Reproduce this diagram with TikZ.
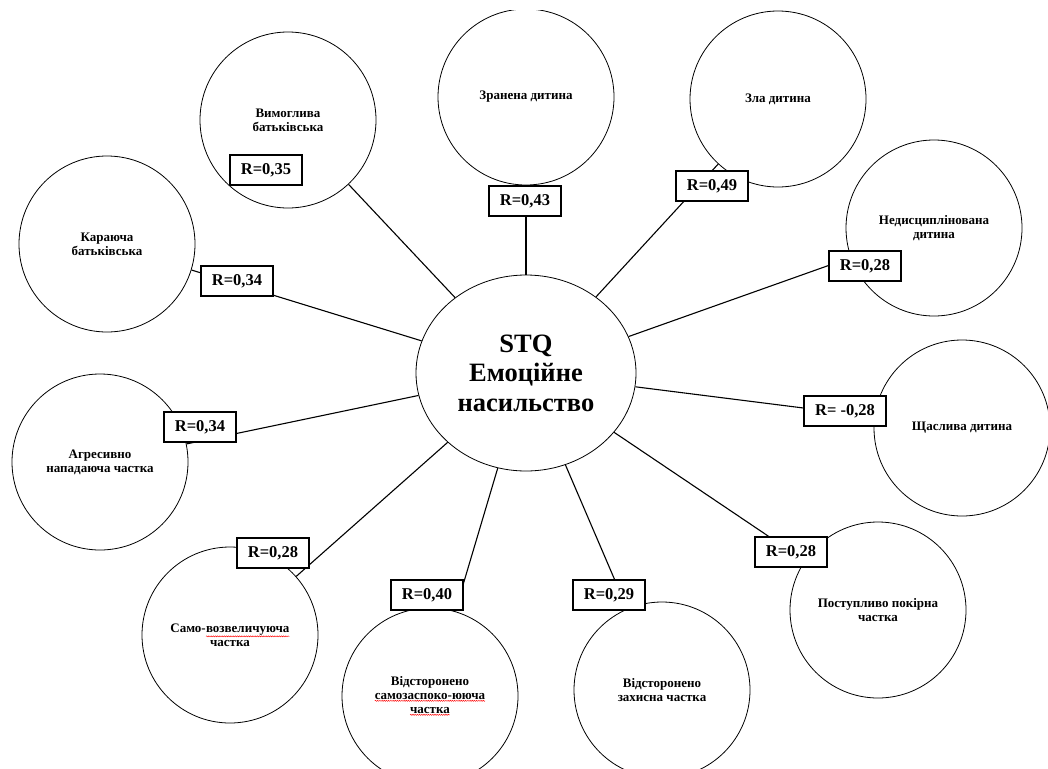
\documentclass[tikz,border=0pt]{standalone}
\usepackage{fontspec}
\setmainfont{Liberation Serif}
\usetikzlibrary{shapes.geometric,decorations.pathmorphing}

% red wavy underline under a word (spelling mark)
\newcommand\spellmark[1]{\tikz[baseline=(sw.base)]{%
  \node[shape=rectangle,draw=none,fill=none,minimum size=0pt,inner sep=0pt,outer sep=0pt] (sw) {#1};%
  \draw[red,line width=0.45pt,decorate,decoration={snake,amplitude=0.55pt,segment length=2.2pt}]
    ([yshift=-1.3pt]sw.south west) -- ([yshift=-1.3pt]sw.south east);}}

\tikzset{
  bubble/.style={circle,draw,line width=0.8pt,fill=white,minimum size=176pt,inner sep=0pt,
    align=center,font=\fontsize{13}{14}\selectfont\bfseries},
  hub/.style={ellipse,draw,line width=0.8pt,fill=white,minimum width=220pt,minimum height=196pt,
    inner sep=0pt,align=center,font=\fontsize{26.5}{29.5}\selectfont\bfseries},
  coef/.style={rectangle,draw,line width=1.6pt,fill=white,minimum height=29.5pt,
    inner xsep=11pt,inner ysep=0pt,font=\fontsize{16.5}{18}\selectfont\bfseries},
  link/.style={line width=1.1pt},
}

\begin{document}
\begin{tikzpicture}[x=1pt,y=-1pt]
\useasboundingbox (0,0) rectangle (1048,768);
\clip (0,11) rectangle (1048,768);

% central construct
\node[hub] (hub) at (526,373) {STQ\\Емоційне\\насильство};

% schema modes around it
\node[bubble] (demand)  at (288,120) {Вимоглива\\батьківська};
\node[bubble] (hurt)    at (526,97)  {Зранена дитина};
\node[bubble] (angry)   at (778,99)  {Зла дитина};
\node[bubble] (undisc)  at (934,228) {Недисциплінована\\дитина};
\node[bubble] (happy)   at (962,428) {Щаслива дитина};
\node[bubble] (compl)   at (878,610) {Поступливо покірна\\частка};
\node[bubble] (detprot) at (662,690) {Відсторонено\\захисна частка};
\node[bubble] (detsoot) at (430,696) {Відсторонено\\\spellmark{самозаспоко-ююча}\\\spellmark{частка}};
\node[bubble] (aggr)    at (230,635) {Само-\spellmark{возвеличуюча}\\частка};
\node[bubble] (attack)  at (100,462) {Агресивно\\нападаюча частка};
\node[bubble] (punish)  at (107,244) {Караюча\\батьківська};

% connectors
\foreach \m in {demand,hurt,angry,undisc,happy,compl,detprot,detsoot,aggr,attack,punish}
  \draw[link] (hub) -- (\m);

% correlation coefficients
\node[coef] (r1)  at (266,170) {R=0,35};
\node[coef] (r2)  at (525,201) {R=0,43};
\node[coef] (r3)  at (712,186) {R=0,49};
\node[coef] (r4)  at (865,266) {R=0,28};
\node[coef] (r5)  at (845,411) {R= -0,28};
\node[coef] (r6)  at (791,552) {R=0,28};
\node[coef] (r7)  at (609,595) {R=0,29};
\node[coef] (r8)  at (427,595) {R=0,40};
\node[coef] (r9)  at (273,553) {R=0,28};
\node[coef] (r10) at (200,427) {R=0,34};
\node[coef] (r11) at (237,281) {R=0,34};
\end{tikzpicture}
\end{document}
